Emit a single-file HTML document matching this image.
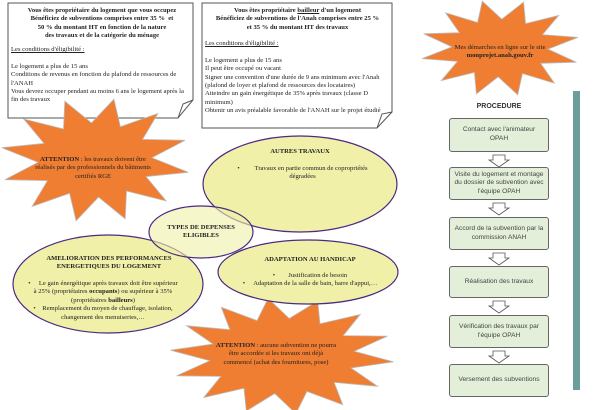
<!DOCTYPE html>
<html><head><meta charset="utf-8"><style>
body{margin:0;width:600px;height:410px;overflow:hidden;background:#fff;font-family:"Liberation Serif",serif;}
svg{position:absolute;left:0;top:0}
.t{position:absolute;font-size:6.6px;line-height:8.4px;color:#222;}
.c{text-align:center}
.pb{position:absolute;left:449px;width:100px;background:#e3efd9;border:1px solid #666;border-radius:3px;font-family:"Liberation Sans",sans-serif;font-size:6.6px;line-height:8.6px;color:#444;display:flex;align-items:center;justify-content:center;text-align:center;box-sizing:border-box;padding:0 1px}
</style></head><body>
<svg width="600" height="410" id="s">
<g fill="#fff" stroke="#555" stroke-width="1">
<path d="M8,3 H193 V100 L178,118 H8 Z"/>
<path d="M178,118 L183,104 L193,100" fill="none"/>
<path d="M202,3 H392 V112 L377,128 H202 Z"/>
<path d="M377,128 L382,114 L392,112" fill="none"/>
</g>
<g id="stars" fill="#ef7d32" stroke="#bbb" stroke-width="0.8"></g>
<g stroke="#4b2a82" stroke-width="1.2" fill="#f0f0a8">
<ellipse cx="300" cy="184" rx="97" ry="48"/>
<ellipse cx="108" cy="284" rx="95" ry="49"/>
<ellipse cx="308" cy="272" rx="90" ry="32"/>
<ellipse cx="201" cy="232" rx="52" ry="26" fill-opacity="0.6"/>
</g>
<rect x="573" y="91" width="7" height="299" fill="#6a9e9a"/>
<g fill="#fff" stroke="#555" stroke-width="0.8" id="arr"></g>
</svg>
<script>
function star(cx,cy,rx,ry,n,ir,rot){var p=[];for(var i=0;i<2*n;i++){var a=rot+Math.PI*i/n;var r=i%2?ir:1;p.push((cx+rx*r*Math.cos(a)).toFixed(1)+","+(cy+ry*r*Math.sin(a)).toFixed(1));}return p.join(" ");}
var g=document.getElementById("stars");
[[95,160,95,62,12,0.6,0.2],[282,356,112,58,14,0.65,0.1],[500,48,80,48,12,0.6,0.3]].forEach(function(s){var e=document.createElementNS("http://www.w3.org/2000/svg","polygon");e.setAttribute("points",star.apply(null,s));g.appendChild(e);});
var a=document.getElementById("arr");
[152,200,250,298,348].forEach(function(y){var e=document.createElementNS("http://www.w3.org/2000/svg","polygon");var x=499;e.setAttribute("points",[x-6,y+3,x+6,y+3,x+6,y+8,x+10,y+8,x,y+15,x-10,y+8,x-6,y+8].join(" "));a.appendChild(e);});
</script>
<div class="t c" style="left:14px;top:7px;width:176px;font-weight:bold">Vous êtes propriétaire du logement que vous occupez<br>Bénéficiez de subventions comprises entre 35 %&nbsp; et<br>50 % du montant HT en fonction de la nature<br>des travaux et de la catégorie du ménage</div>
<div class="t" style="left:11px;top:46px;width:180px"><u>Les conditions d'éligibilité :</u><br><br>Le logement a plus de 15 ans<br>Conditions de revenus en fonction du plafond de ressources de l'ANAH<br>Vous devrez occuper pendant au moins 6 ans le logement après la fin des travaux</div>
<div class="t c" style="left:205px;top:7px;width:185px;font-weight:bold">Vous êtes propriétaire <u>bailleur</u> d'un logement<br>Bénéficiez de subventions de l'Anah comprises entre 25 %<br>et 35 % du montant HT des travaux</div>
<div class="t" style="left:205px;top:40px;width:180px"><u>Les conditions d'éligibilité :</u><br><br>Le logement a plus de 15 ans<br>Il peut être occupé ou vacant<br>Signer une convention d'une durée de 9 ans minimum avec l'Anah (plafond de loyer et plafond de ressources des locataires)<br>Atteindre un gain énergétique de 35% après travaux (classe D minimum)<br>Obtenir un avis préalable favorable de l'ANAH sur le projet étudié</div>
<div class="t c" style="left:32px;top:156px;width:122px"><b>ATTENTION</b> : les travaux doivent être réalisés par des professionnels du bâtiments certifiés RGE</div>
<div class="t c" style="left:440px;top:44px;width:120px">Mes démarches en ligne sur le site <b>monprojet.anah.gouv.fr</b></div>
<div class="t c" style="left:220px;top:148px;width:160px;font-weight:bold">AUTRES TRAVAUX</div>
<div class="t c" style="left:225px;top:165px;width:155px">•&nbsp;&nbsp;&nbsp;&nbsp;&nbsp;&nbsp;&nbsp;&nbsp;&nbsp;Travaux en partie commun de copropriétés dégradées</div>
<div class="t c" style="left:158px;top:224px;width:86px;font-weight:bold">TYPES DE DEPENSES ELIGIBLES</div>
<div class="t c" style="left:24px;top:255px;width:170px;font-weight:bold">AMELIORATION DES PERFORMANCES ENERGETIQUES DU LOGEMENT</div>
<div class="t c" style="left:28px;top:280px;width:150px">•&nbsp;&nbsp;&nbsp;&nbsp;&nbsp;Le gain énergétique après travaux doit être supérieur à 25% (propriétaires <b>occupants</b>) ou supérieur à 35% (propriétaires <b>bailleurs</b>)<br>•&nbsp;&nbsp;&nbsp;&nbsp;Remplacement du moyen de chauffage, isolation, changement des menuiseries,…</div>
<div class="t c" style="left:225px;top:256px;width:170px;font-weight:bold">ADAPTATION AU HANDICAP</div>
<div class="t c" style="left:225px;top:272px;width:170px">•&nbsp;&nbsp;&nbsp;&nbsp;&nbsp;&nbsp;&nbsp;&nbsp;Justification de besoin<br>•&nbsp;&nbsp;&nbsp;&nbsp;&nbsp;Adaptation de la salle de bain, barre d'appui,…</div>
<div class="t c" style="left:215px;top:342px;width:122px"><b>ATTENTION</b> : aucune subvention ne pourra être accordée si les travaux ont déjà commencé (achat des fournitures, pose)</div>
<div style="position:absolute;left:449px;top:103px;width:100px;text-align:center;font-family:'Liberation Sans',sans-serif;font-size:7px;font-weight:bold;color:#333">PROCEDURE</div>
<div class="pb" style="top:118px;height:34px">Contact avec l'animateur<br>OPAH</div>
<div class="pb" style="top:167px;height:33px">Visite du logement et montage du dossier de subvention avec l'équipe OPAH</div>
<div class="pb" style="top:217px;height:33px">Accord de la subvention par la commission ANAH</div>
<div class="pb" style="top:266px;height:32px">Réalisation des travaux</div>
<div class="pb" style="top:315px;height:33px">Vérification des travaux par l'équipe OPAH</div>
<div class="pb" style="top:364px;height:33px">Versement des subventions</div>
</body></html>
